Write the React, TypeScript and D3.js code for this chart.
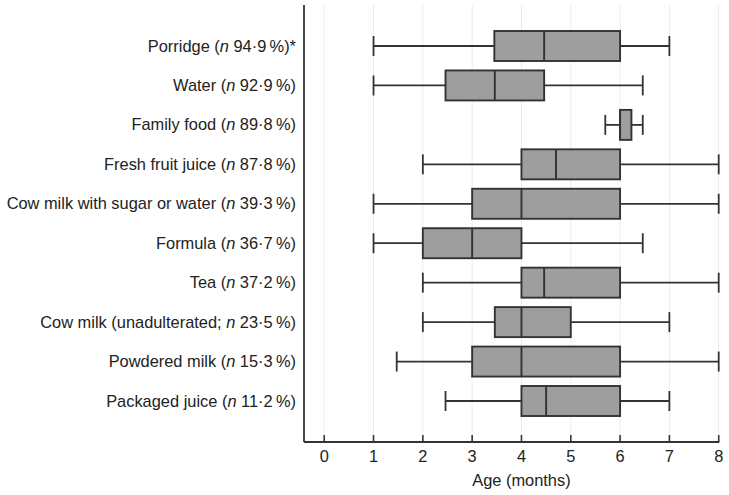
import React from "react";
import { scaleLinear, scalePoint } from "d3";

// food names and the share of children (n %) given each one
const foods = [
  "Porridge",
  "Water",
  "Family food",
  "Fresh fruit juice",
  "Cow milk with sugar or water",
  "Formula",
  "Tea",
  "Cow milk",
  "Powdered milk",
  "Packaged juice",
];
const openers = ["(", "(", "(", "(", "(", "(", "(", "(unadulterated; ", "(", "("];
const shares = ["94·9", "92·9", "89·8", "87·8", "39·3", "36·7", "37·2", "23·5", "15·3", "11·2"];
const suffixes = [")*", ")", ")", ")", ")", ")", ")", ")", ")", ")"];

// age of introduction (months): whisker low, Q1, median, Q3, whisker high
const whiskerLow = [1, 1, 5.7, 2, 1, 1, 2, 2, 1.47, 2.46];
const q1 = [3.45, 2.46, 6, 4, 3, 2, 4, 3.46, 3, 4];
const median = [4.46, 3.46, 6, 4.7, 4, 3, 4.46, 4, 4, 4.5];
const q3 = [6, 4.46, 6.23, 6, 6, 4, 6, 5, 6, 6];
const whiskerHigh = [7, 6.46, 6.46, 8, 8, 6.46, 8, 7, 8, 7];

const xTicks = [0, 1, 2, 3, 4, 5, 6, 7, 8];

export default function App() {
  const width = 729;
  const height = 495;
  const left = 304;
  const bottom = 442;

  const x = scaleLinear().domain([-0.41, 8]).range([left, 718.7]);
  const y = scalePoint<string>().domain(foods).range([46, 401]);

  const bh = 30;
  const capH = 20;
  const ink = "#333";
  const fs = 16.4;

  return (
    <svg
      width={width}
      height={height}
      style={{ position: "absolute", left: 0, top: 0, background: "#fff" }}
      fontFamily="'Liberation Sans', Arial, sans-serif"
    >
      {/* faint grid */}
      {xTicks.map((t) => (
        <line key={"g" + t} x1={x(t)} x2={x(t)} y1={5} y2={bottom} stroke="#ececec" strokeWidth={1} />
      ))}

      {/* axes */}
      <line x1={left} x2={left} y1={5} y2={bottom} stroke={ink} strokeWidth={1.8} />
      <line x1={left} x2={x(8) + 0.5} y1={bottom} y2={bottom} stroke={ink} strokeWidth={1.8} />
      {xTicks.map((t) => (
        <g key={"t" + t}>
          <line x1={x(t)} x2={x(t)} y1={bottom} y2={bottom - 7} stroke={ink} strokeWidth={1.6} />
          <text x={x(t)} y={462} textAnchor="middle" fontSize={fs} fill="#222">
            {t}
          </text>
        </g>
      ))}
      <text x={(x(0) + x(8)) / 2} y={486} textAnchor="middle" fontSize={fs} fill="#222">
        Age (months)
      </text>

      {foods.map((f, i) => {
        const cy = y(f) as number;
        return (
          <g key={f}>
            <text x={296} y={cy + 5.5} textAnchor="end" fontSize={fs} fill="#222">
              {f} {openers[i]}<tspan fontStyle="italic">n</tspan> {shares[i]}{"\u2009"}%{suffixes[i]}
            </text>
            <line x1={x(whiskerLow[i])} x2={x(q1[i])} y1={cy} y2={cy} stroke={ink} strokeWidth={1.8} />
            <line x1={x(q3[i])} x2={x(whiskerHigh[i])} y1={cy} y2={cy} stroke={ink} strokeWidth={1.8} />
            <line x1={x(whiskerLow[i])} x2={x(whiskerLow[i])} y1={cy - capH / 2} y2={cy + capH / 2} stroke={ink} strokeWidth={1.8} />
            <line x1={x(whiskerHigh[i])} x2={x(whiskerHigh[i])} y1={cy - capH / 2} y2={cy + capH / 2} stroke={ink} strokeWidth={1.8} />
            <rect
              x={x(q1[i])}
              y={cy - bh / 2}
              width={x(q3[i]) - x(q1[i])}
              height={bh}
              fill="#9e9e9e"
              stroke={ink}
              strokeWidth={1.9}
            />
            <line x1={x(median[i])} x2={x(median[i])} y1={cy - bh / 2} y2={cy + bh / 2} stroke={ink} strokeWidth={1.9} />
          </g>
        );
      })}
    </svg>
  );
}
